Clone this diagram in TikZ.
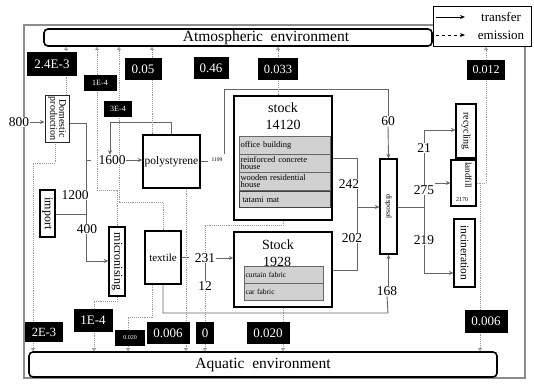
\documentclass[tikz,border=0pt]{standalone}
\usepackage{fontspec}
\setmainfont{Liberation Serif}
\usetikzlibrary{arrows.meta,backgrounds}
\newcommand{\myfs}[1]{\fontsize{#1}{#1}\selectfont}
\begin{document}
\begin{tikzpicture}[x=1pt,y=-1pt,
  frame/.style={draw=black!45, line width=1.2pt},
  envbox/.style={draw=black, line width=1.6pt, rounded corners=4pt, inner sep=0pt, fill=white},
  proc/.style={draw=black, line width=1.4pt, fill=white, inner sep=0pt},
  thinproc/.style={draw=black!85, line width=0.9pt, fill=white, inner sep=0pt},
  grayrow/.style={draw=black!60, line width=0.6pt, fill=black!18, inner sep=1pt, minimum width=91pt, minimum height=18pt, text width=88pt, align=left, font=\myfs{8.5}},
  grayrowb/.style={draw=black!60, line width=0.6pt, fill=black!18, inner sep=1pt, minimum width=79pt, minimum height=17pt, text width=76pt, align=left, font=\myfs{7.5}},
  lbl/.style={fill=black, text=white, inner sep=0pt},
  num/.style={fill=white, inner sep=0.6pt, font=\myfs{13.5}},
  tr/.style={draw=black!60, line width=0.9pt},
  tra/.style={tr, -{Stealth[length=4.5pt,width=4pt]}},
  em/.style={draw=black!40, line width=0.9pt, densely dotted},
  ema/.style={em, -{Triangle[open,length=3pt,width=4pt]}},
  vt/.style={rotate=-90, inner sep=0pt, align=center},
]
\useasboundingbox (0,0) rectangle (534,383);

% environments and legend
\node[envbox, minimum width=388pt, minimum height=17pt] (atm) at (238,37.5) {};
\node[font=\myfs{15.5}, inner sep=0pt] (atmt) at (266,38) {Atmospheric\ \ environment};
\node[envbox, minimum width=468pt, minimum height=25pt] (aq) at (263,364.5) {};
\node[font=\myfs{15.5}, inner sep=0pt] (aqt) at (263,365) {Aquatic\ \ environment};
\node[draw=black, line width=1pt, fill=white, minimum width=98pt, minimum height=40pt, inner sep=0pt] (leg) at (482,26) {};
\node[font=\myfs{13}, inner sep=0pt] (legt) at (501,17) {transfer};
\node[font=\myfs{13}, inner sep=0pt] (lege) at (501,35) {emission};
\coordinate (la1) at (436,17); \coordinate (la2) at (465,17);
\coordinate (lb1) at (436,35); \coordinate (lb2) at (465,35);
\draw[black, line width=0.8pt, -{Stealth[length=5pt,width=4pt]}] (la1) -- (la2);
\draw[black, line width=0.8pt, dashed, -{Stealth[length=5pt,width=4pt]}] (lb1) -- (lb2);

% processes
\node[thinproc, minimum width=24pt, minimum height=47pt] (dp) at (57,118.5) {};
\node[vt, font=\myfs{10}] (dpt) at (dp) {Domestic\\[-1pt]production};
\node[proc, minimum width=15pt, minimum height=47pt] (imp) at (47.5,213.5) {};
\node[vt, font=\myfs{12}] (impt) at (imp) {import};
\node[proc, minimum width=16pt, minimum height=69pt] (mic) at (117,261.5) {};
\node[vt, font=\myfs{12}] (mict) at (mic) {micronising};
\node[proc, minimum width=57pt, minimum height=53pt, font=\myfs{11.5}] (poly) at (171.5,161.5) {polystyrene};
\node[proc, minimum width=36pt, minimum height=53pt, font=\myfs{11}] (tex) at (163,257.5) {textile};

\node[proc, minimum width=98pt, minimum height=124pt] (st1) at (283,158) {};
\node[font=\myfs{14}, inner sep=0pt] (st1a) at (283,108) {stock};
\node[font=\myfs{14}, inner sep=0pt] (st1b) at (283,125) {14120};
\node[grayrow] (g1) at (284.5,145) {office building};
\node[grayrow, font=\fontsize{8.5}{7.5}\selectfont] (g2) at (284.5,163) {reinforced concrete\\house};
\node[grayrow, font=\fontsize{8.5}{7.5}\selectfont] (g3) at (284.5,181) {wooden residential\\house};
\node[grayrow, minimum height=16pt, line width=1pt, draw=black!75] (g4) at (284.5,199.5) {\hspace{2pt}tatami mat};

\node[proc, minimum width=98pt, minimum height=75pt] (st2) at (283,269.5) {};
\node[font=\myfs{14}, inner sep=0pt] (st2a) at (278,245) {Stock};
\node[font=\myfs{14}, inner sep=0pt] (st2b) at (277,262) {1928};
\node[grayrowb] (g5) at (283.5,274.5) {curtain fabric};
\node[grayrowb] (g6) at (283.5,291.5) {car fabric};

\node[proc, line width=1.1pt, minimum width=17pt, minimum height=95pt] (disp) at (388.5,206.5) {};
\node[vt, font=\myfs{7.5}] (dispt) at (disp) {disposal};
\node[proc, line width=1.2pt, minimum width=20pt, minimum height=54pt] (rec) at (466,131) {};
\node[vt, font=\myfs{10}] (rect) at (rec) {recycling};
\node[proc, line width=1.2pt, minimum width=25pt, minimum height=46pt] (land) at (463.5,183) {};
\node[vt, font=\myfs{9}] (landt) at (468.5,175) {landfill};
\node[font=\myfs{6}, inner sep=0pt] (land2) at (462,200) {2170};
\node[proc, line width=1.2pt, minimum width=21pt, minimum height=68pt] (inc) at (464.5,253) {};
\node[vt, font=\myfs{11.5}] (inct) at (inc) {incineration};

% numbers
\node[num] (n800) at (19,122) {800};
\node[num] (n1600) at (112,160) {1600};
\node[num] (n1200) at (75,195) {1200};
\node[num] (n400) at (87,229) {400};
\node[fill=white, inner sep=0.5pt, font=\myfs{5.5}] (n1199) at (217,160) {1199};
\node[num] (n231) at (205,258) {231};
\node[num] (n12) at (205,286) {12};
\node[num] (n60) at (388,121) {60};
\node[num] (n242) at (349,184) {242};
\node[num] (n202) at (352,238) {202};
\node[num] (n21) at (424,148) {21};
\node[num] (n275) at (424,190) {275};
\node[num] (n219) at (424,240) {219};
\node[num] (n168) at (387,291) {168};

% emission values
\node[lbl, minimum width=50pt, minimum height=24pt, font=\myfs{13}] (b1) at (52,64) {2.4E-3};
\node[lbl, minimum width=33pt, minimum height=16pt, font=\myfs{8}] (b2) at (100,83) {1E-4};
\node[lbl, minimum width=37pt, minimum height=22pt, font=\myfs{13}] (b3) at (143,69) {0.05};
\node[lbl, minimum width=35pt, minimum height=22pt, font=\myfs{13}] (b4) at (211,68) {0.46};
\node[lbl, minimum width=40pt, minimum height=22pt, font=\myfs{12.5}] (b5) at (278,69) {0.033};
\node[lbl, minimum width=28pt, minimum height=16pt, font=\myfs{8}] (b6) at (118,109) {3E-4};
\node[lbl, minimum width=38pt, minimum height=20pt, font=\myfs{12}] (b7) at (486,70) {0.012};
\node[lbl, minimum width=38pt, minimum height=20pt, font=\myfs{12.5}] (b8) at (44,332) {2E-3};
\node[lbl, minimum width=39pt, minimum height=23pt, font=\myfs{13}] (b9) at (93,320) {1E-4};
\node[lbl, minimum width=30pt, minimum height=16pt, font=\myfs{6}] (b10) at (130,338) {0.020};
\node[lbl, minimum width=43pt, minimum height=22pt, font=\myfs{13}] (b11) at (168,333) {0.006};
\node[lbl, minimum width=18pt, minimum height=22pt, font=\myfs{13}] (b12) at (205,333) {0};
\node[lbl, minimum width=43pt, minimum height=22pt, font=\myfs{13}] (b13) at (268,333) {0.020};
\node[lbl, minimum width=43pt, minimum height=23pt, font=\myfs{13}] (b14) at (486,321) {0.006};

% helper coordinates
\coordinate (jA) at (86,123); \coordinate (jB) at (86,261);
\coordinate (jI) at (86,214); \coordinate (j1600) at (86,160);
\coordinate (lp) at (110,122);
\coordinate (k1) at (224,154); \coordinate (k2) at (224,89); \coordinate (k3) at (388,89);
\coordinate (d1) at (357,158); \coordinate (d2) at (357,207); \coordinate (d3) at (357,270);
\coordinate (r1) at (424,207); \coordinate (r2) at (424,130); \coordinate (r3) at (424,273);
\coordinate (t1) at (163,313); \coordinate (t2) at (388,313);
\coordinate (x33) at (33,0); \coordinate (x55) at (55,0); \coordinate (x66) at (66,0);
\coordinate (x94) at (94,0); \coordinate (x97) at (97,0); \coordinate (x119) at (119,0);
\coordinate (x128) at (128,0); \coordinate (x152) at (152,0); \coordinate (x186) at (186,0);
\coordinate (x278) at (278,0); \coordinate (x283) at (283,0);
\coordinate (x480) at (480,0); \coordinate (x486) at (486,0);

\begin{pgfonlayer}{background}
\draw[frame] (24,25) rectangle (525,378);
% transfers
\draw[tra] (n800.east) -- (n800.east -| dp.west);
\draw[tr] (jA -| dp.east) -- (jA) -- (jB);
\draw[tra] (jB) -- (jB -| mic.west);
\draw[tr] (jI -| imp.east) -- (jI);
\draw[tr] (j1600) -- ++(5,0);
\draw[tra] (n1600.east) -- (n1600.east -| poly.west);
\draw[tra] (poly.north) |- (lp) -- (lp |- n1600.north);
\draw[tr] (poly.east) -- ++(7,0);
\draw[tr] (k1) -- (k2) -- (k3) -- (n60.north);
\draw[tra] (n60.south) -- (disp.north);
\draw[tr] (d1 -| st1.east) -- (d1) -- (d3) -- (d3 -| st2.east);
\draw[tra] (d2) -- (d2 -| disp.west);
\draw[tr] (d2 -| disp.east) -- (r1);
\draw[tr] (r2) -- (r3);
\draw[tra] (r2) -- (r2 -| rec.west);
\draw[tra] (n275.east |- land.west) -- (land.west);
\draw[tra] (r3) -- (r3 -| inc.west);
\draw[tr] (tex.east) -- ++(7,0);
\draw[tra] (n231.east) -- (n231.east -| st2.west);
\draw[tr] (n231.south) -- (n12.north);
\draw[tr] (tex.south) -- (t1) -- (t2) -- (n168.south);
\draw[tra] (disp.south |- n168.north) -- (disp.south);
% emissions
\draw[ema] (dp.north -| x66) -- (x66 |- atm.south);
\draw[ema] (mic.north) -- (117,190) -- (97,190) -- (x97 |- atm.south);
\draw[ema] (tex.north) -- (163,202) -- (119,202) -- (x119 |- atm.south);
\draw[ema] (poly.north -| x152) -- (x152 |- atm.south);
\draw[ema] (st1.north -| x278) -- (x278 |- atm.south);
\draw[ema] (land.east) -- (486,183) -- (x486 |- atm.south);
\draw[ema] (dp.south -| x55) -- (55,163) -- (33,163) -- (x33 |- aq.north);
\draw[ema] (mic.south) -- (117,301) -- (94,301) -- (x94 |- aq.north);
\draw[ema] (tex.south -| x152) -- (152,317) -- (128,317) -- (x128 |- aq.north);
\draw[ema] (poly.south -| x186) -- (x186 |- aq.north);
\draw[em] (st1.south -| x283) -- (283,225) -- (205,225) -- (n231.north);
\draw[ema] (n12.south) -- (n12.south |- aq.north);
\draw[ema] (st2.south -| x283) -- (x283 |- aq.north);
\draw[ema] (land.east) -- (480,183) -- (x480 |- aq.north);
\end{pgfonlayer}
\end{tikzpicture}
\end{document}
